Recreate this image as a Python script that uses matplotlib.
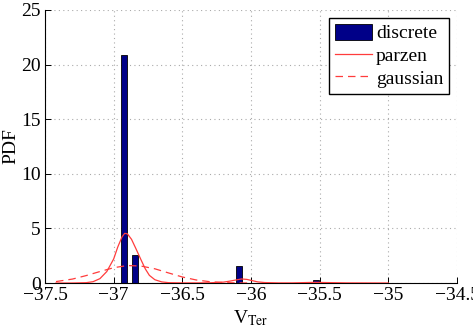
import numpy as np
import matplotlib.pyplot as plt

# discrete pdf (bar centres and heights)
bar_x = [-36.926, -36.845, -36.087, -35.528]
bar_h = [20.88, 2.56, 1.56, 0.30]

# parzen estimate
parzen_x = [-37.42, -37.3, -37.2, -37.15, -37.1, -37.05, -37.0, -36.97, -36.94, -36.92,
            -36.90, -36.87, -36.84, -36.80, -36.77, -36.74, -36.70, -36.65, -36.6, -36.5,
            -36.4, -36.3, -36.2, -36.15, -36.1, -36.07, -36.03, -36.0, -35.95, -35.9,
            -35.8, -35.7, -35.6, -35.53, -35.45, -35.3, -35.0]
parzen_y = [0.0, 0.0, 0.03, 0.12, 0.4, 1.05, 2.2, 3.3, 4.2, 4.55,
            4.5, 4.0, 3.2, 2.1, 1.3, 0.7, 0.3, 0.1, 0.03, 0.01,
            0.01, 0.02, 0.08, 0.18, 0.3, 0.37, 0.33, 0.24, 0.1, 0.04,
            0.01, 0.01, 0.04, 0.06, 0.04, 0.01, 0.0]

# gaussian fit
gauss_x = [-37.42, -37.3, -37.2, -37.1, -37.0, -36.9, -36.8, -36.7, -36.6, -36.5,
           -36.4, -36.3, -36.2, -36.1, -36.0]
gauss_y = [0.13, 0.36, 0.68, 1.05, 1.4, 1.6, 1.55, 1.3, 0.92, 0.55,
           0.28, 0.12, 0.04, 0.01, 0.0]

plt.rcParams['font.family'] = 'Liberation Serif'
plt.rcParams['mathtext.fontset'] = 'stix'

fig = plt.figure(figsize=(4.73, 3.34), dpi=100)
ax = fig.add_axes([45/473, 1 - 283/334, 412/473, 273/334])

red = '#ff3c3c'
hb = ax.bar(bar_x, bar_h, width=0.046, color='#000088', edgecolor='black', linewidth=0.6,
            label='discrete', zorder=2)
hp, = ax.plot(parzen_x, parzen_y, '-', color=red, lw=0.9, label='parzen', zorder=3)
hg, = ax.plot(gauss_x, gauss_y, '--', color=red, lw=0.9, dashes=(6, 4), label='gaussian', zorder=3)

ax.set_xlim(-37.5, -34.5)
ax.set_ylim(0, 25)
ax.set_xticks(np.arange(-37.5, -34.4, 0.5))
ax.set_xticklabels(['\u221237.5', '\u221237', '\u221236.5', '\u221236', '\u221235.5', '\u221235', '\u221234.5'])
ax.set_yticks([0, 5, 10, 15, 20, 25])

ax.grid(True, linestyle=(0, (1, 3)), color='#aaaaaa', linewidth=0.8)
ax.set_axisbelow(True)
for s in ['top', 'right']:
    ax.spines[s].set_visible(False)
ax.tick_params(direction='in', labelsize=14, length=4, width=0.7, pad=3)

ax.set_xlabel(r'V$_{\mathrm{Ter}}$', fontsize=14, labelpad=3)
ax.set_ylabel('PDF', fontsize=14, labelpad=1)

leg = ax.legend([hb, hp, hg], ['discrete', 'parzen', 'gaussian'], loc='upper right',
                fontsize=14, fancybox=False, framealpha=1,
                edgecolor='black', handlelength=1.9, handleheight=0.9, handletextpad=0.2,
                labelspacing=0.2, borderpad=0.3, borderaxespad=0.4)
leg.get_frame().set_linewidth(1.0)

fig.savefig('out.png', dpi=100)
